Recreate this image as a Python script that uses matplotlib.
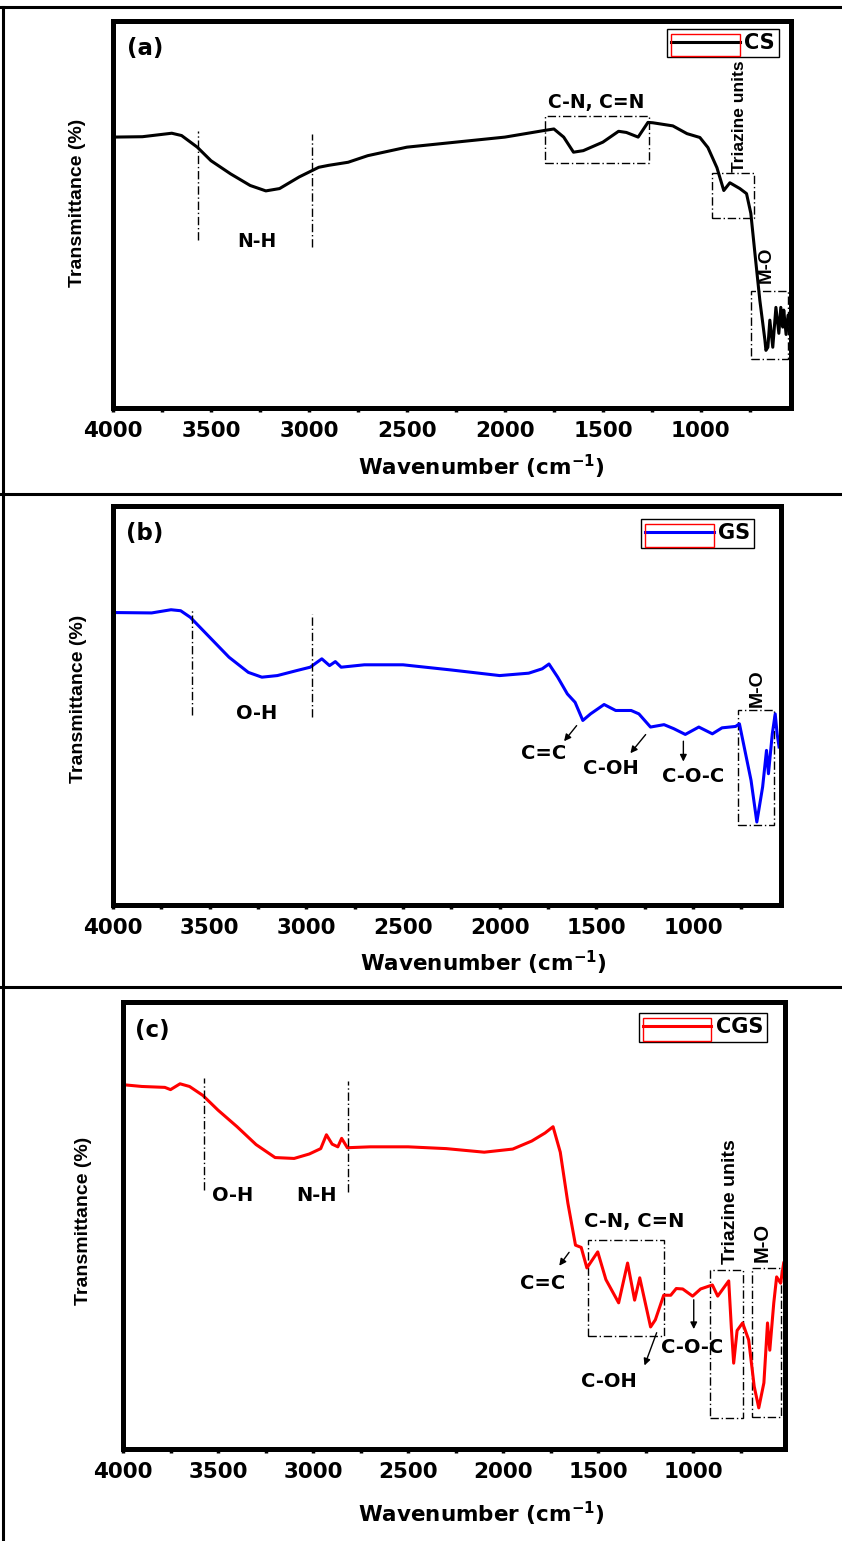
import numpy as np
import matplotlib
matplotlib.use('Agg')
import matplotlib.pyplot as plt
from matplotlib.lines import Line2D
from matplotlib.patches import Rectangle
from matplotlib.ticker import MultipleLocator

plt.rcParams['font.family'] = ['DejaVu Sans']
plt.rcParams['font.weight'] = 'bold'
plt.rcParams['axes.labelweight'] = 'bold'
plt.rcParams['mathtext.default'] = 'bf'

# ---- data (transmittance in arbitrary units 0-100) ----
wn_cs = [4000, 3850, 3700, 3650, 3570, 3500, 3400, 3300, 3220, 3150, 3050, 2950, 2900,
         2800, 2700, 2500, 2250, 2000, 1800, 1750, 1700, 1650, 1600, 1500, 1420, 1380,
         1320, 1270, 1245, 1143, 1071, 1005, 964, 918, 883, 852, 801, 767, 745, 724,
         699, 673, 668, 658, 648, 633, 617, 602, 592, 582, 577, 565, 555, 545]
t_cs = [70.0, 70.1, 71.0, 70.4, 67.4, 63.9, 60.5, 57.5, 56.1, 56.7, 59.7, 62.2, 62.7,
        63.5, 65.2, 67.4, 68.7, 70.0, 71.7, 72.1, 70.0, 66.1, 66.5, 68.7, 71.5, 71.2,
        70.0, 73.8, 73.7, 72.9, 70.9, 69.9, 67.3, 62.1, 56.2, 58.2, 56.7, 55.4, 50.3, 39.9,
        27.8, 17.5, 14.9, 15.7, 22.7, 15.7, 26.0, 19.3, 26.0, 20.9, 25.3, 19.0, 24.0, 21.0]

wn_gs = [4000, 3800, 3700, 3650, 3600, 3500, 3400, 3300, 3230, 3150, 3050, 2980, 2920,
         2880, 2850, 2820, 2700, 2500, 2250, 2000, 1850, 1780, 1745, 1700, 1650, 1610,
         1570, 1530, 1460, 1400, 1320, 1280, 1220, 1150, 1100, 1040, 970, 900, 850, 780,
         760, 700, 670, 640, 620, 610, 600, 590, 575, 565, 555]
t_gs = [73.3, 73.2, 74.0, 73.75, 72.1, 67.1, 62.1, 58.3, 57.1, 57.5, 58.75, 59.6, 61.7,
        60.0, 61.0, 59.6, 60.2, 60.2, 58.9, 57.5, 58.1, 59.2, 60.4, 57.1, 52.9, 50.8,
        46.25, 47.9, 50.25, 48.75, 48.75, 47.9, 44.6, 45.2, 44.2, 42.75, 44.6, 42.9, 44.4, 44.75,
        45.4, 31.25, 20.8, 29.6, 38.75, 32.9, 37.9, 42.9, 47.9, 42.9, 39.6]

wn_cgs = [4000, 3900, 3780, 3750, 3700, 3650, 3580, 3500, 3400, 3300, 3200, 3100, 3020,
          2960, 2930, 2900, 2870, 2850, 2820, 2700, 2500, 2300, 2100, 1950, 1850, 1780,
          1738, 1700, 1660, 1620, 1590, 1560, 1503, 1460, 1393, 1346, 1309, 1282, 1225,
          1200, 1156, 1119, 1090, 1056, 1004, 962, 900, 872, 814, 800, 788, 770, 741,
          709, 680, 656, 629, 610, 598, 577, 562, 541, 525]
t_cgs = [81.5, 81.1, 80.9, 80.4, 81.7, 81.1, 79.1, 75.8, 72.1, 68.1, 65.2, 65.0, 66.0,
         67.2, 70.3, 68.2, 67.6, 69.5, 67.4, 67.6, 67.6, 67.2, 66.4, 67.1, 68.9, 70.7,
         72.1, 66.4, 55.0, 45.6, 45.1, 40.5, 44.1, 37.9, 32.7, 41.6, 33.3, 38.3, 27.3,
         28.9, 34.4, 34.4, 35.9, 35.8, 34.2, 35.8, 36.7, 34.2, 37.6, 27.0, 19.2, 26.5, 28.2,
         24.4, 14.0, 9.2, 14.8, 28.2, 22.1, 32.7, 38.5, 37.1, 41.6]

W, H = 842, 1541
fig = plt.figure(figsize=(W / 100, H / 100), dpi=100)


def add_ax(l, r, t, b):
    return fig.add_axes([l / W, 1 - b / H, (r - l) / W, (b - t) / H])


def fig_line(x0, y0, x1, y1):
    fig.add_artist(Line2D([x0 / W, x1 / W], [1 - y0 / H, 1 - y1 / H],
                          transform=fig.transFigure, color='black', lw=2.2))


def style_ax(ax, xmin, tag, tagpos, ylab_pos, xlab_pos):
    ax.set_xlim(4000, xmin)
    ax.set_ylim(0, 100)
    ax.xaxis.set_major_locator(MultipleLocator(500))
    ax.xaxis.set_minor_locator(MultipleLocator(250))
    ax.set_yticks([])
    ax.tick_params(axis='x', which='both', direction='out', length=3, width=2.5,
                   top=False, labelsize=15.5, pad=6)
    for s in ax.spines.values():
        s.set_linewidth(3.6)
    ax.set_xlabel('Wavenumber (cm$^{-1}$)', fontsize=15.5, fontweight='bold', va='center')
    ax.xaxis.set_label_coords(*xlab_pos)
    ax.set_ylabel('Transmittance (%)', fontsize=14, fontweight='bold',
                  family='Liberation Sans', va='center')
    ax.yaxis.set_label_coords(*ylab_pos)
    ax.text(tagpos[0], tagpos[1], tag, transform=ax.transAxes, fontsize=16.5,
            ha='center', va='center')


DD = (0, (6, 2, 1, 2))


def vline(ax, x, y0, y1):
    ax.plot([x, x], [y0, y1], color='black', lw=1, ls=DD)


def box(ax, x0, x1, y0, y1):
    ax.add_patch(Rectangle((x0, y0), x1 - x0, y1 - y0, fill=False, ec='black',
                           lw=1, ls=DD))


def arrow(ax, start, end):
    ax.annotate('', xy=end, xytext=start,
                arrowprops=dict(arrowstyle='-|>', lw=1, color='black', mutation_scale=10))


def legend(ax, anchor):
    leg = ax.legend(loc='upper right', bbox_to_anchor=anchor, borderaxespad=0,
                    fancybox=False, edgecolor='black', framealpha=1,
                    prop={'size': 15, 'weight': 'bold'}, handlelength=3.3,
                    handletextpad=0.2, borderpad=0.2)
    leg.get_frame().set_linewidth(1.0)
    return leg


# ---- table borders ----
fig_line(0, 7, W, 7)
fig_line(3, 7, 3, H)
fig_line(0, 494, W, 494)
fig_line(0, 987, W, 987)

# ---- (a) CS ----
ax1 = add_ax(113, 791, 21, 408)
ax1.plot(wn_cs, t_cs, color='black', lw=2.2, label='CS')
style_ax(ax1, 540, '(a)', (0.048, 0.93), (-0.052, 0.53), (0.544, -0.152))
vline(ax1, 3568, 43.3, 71.7)
vline(ax1, 2987, 41.6, 70.8)
ax1.text(3267, 42.9, 'N-H', fontsize=13.5, ha='center', va='center')
box(ax1, 1796, 1265, 63.3, 75.5)
ax1.text(1536, 79, 'C-N, C=N', fontsize=13.5, ha='center', va='center')
box(ax1, 944, 730, 49.2, 60.8)
ax1.text(801, 75.5, 'Triazine units', fontsize=12.5, family='Liberation Sans',
         rotation=90, ha='center', va='center')
box(ax1, 745, 556, 12.6, 30.2)
ax1.text(668, 37, 'M-O', fontsize=13.5, family='Liberation Sans', rotation=90,
         ha='center', va='center')
leg1 = legend(ax1, (0.982, 0.979))

# ---- (b) GS ----
ax2 = add_ax(113, 781, 506, 905)
ax2.plot(wn_gs, t_gs, color='#0000ff', lw=2.2, label='GS')
style_ax(ax2, 545, '(b)', (0.048, 0.932), (-0.052, 0.516), (0.554, -0.145))
vline(ax2, 3589, 47.5, 74.2)
vline(ax2, 2972, 47.1, 72.9)
ax2.text(3256, 47.9, 'O-H', fontsize=14, ha='center', va='center')
arrow(ax2, (1593, 45.5), (1676, 40.5))
ax2.text(1774, 38, 'C=C', fontsize=14, ha='center', va='center')
arrow(ax2, (1236, 43.25), (1333, 37.5))
ax2.text(1427, 34.25, 'C-OH', fontsize=14, ha='center', va='center')
arrow(ax2, (1050, 41.75), (1050, 35.25))
ax2.text(998, 32.25, 'C-O-C', fontsize=14, ha='center', va='center')
box(ax2, 765, 579, 20, 48.75)
ax2.text(667, 54.25, 'M-O', fontsize=14, family='Liberation Sans', rotation=90,
         ha='center', va='center')
leg2 = legend(ax2, (0.96, 0.967))

# ---- (c) CGS ----
ax3 = add_ax(123, 785, 1002, 1449)
ax3.plot(wn_cgs, t_cgs, color='#ff0000', lw=2.2, label='CGS')
style_ax(ax3, 518, '(c)', (0.045, 0.937), (-0.06, 0.51), (0.542, -0.145))
vline(ax3, 3572, 58.0, 83.1)
vline(ax3, 2817, 57.5, 82.3)
ax3.text(3425, 56.6, 'O-H', fontsize=14, ha='center', va='center')
ax3.text(2980, 56.6, 'N-H', fontsize=14, ha='center', va='center')
arrow(ax3, (1645, 44.5), (1714, 40.5))
ax3.text(1793, 37.1, 'C=C', fontsize=14, ha='center', va='center')
box(ax3, 1556, 1156, 25.3, 46.8)
ax3.text(1313, 50.8, 'C-N, C=N', fontsize=14, ha='center', va='center')
arrow(ax3, (1188, 26.6), (1262, 18.1))
ax3.text(1445, 15, 'C-OH', fontsize=14, ha='center', va='center')
arrow(ax3, (998, 34.0), (998, 26.2))
ax3.text(1004, 22.6, 'C-O-C', fontsize=14, ha='center', va='center')
box(ax3, 913, 741, 6.9, 40.0)
ax3.text(803, 55.3, 'Triazine units', fontsize=14, family='Liberation Sans',
         rotation=90, ha='center', va='center')
box(ax3, 694, 541, 7.2, 40.5)
ax3.text(637, 46.3, 'M-O', fontsize=14.5, family='Liberation Sans', rotation=90,
         ha='center', va='center')
leg3 = legend(ax3, (0.973, 0.975))

# red selection frame around each legend sample (as in the original export)
fig.canvas.draw()
r = fig.canvas.get_renderer()
inv = fig.transFigure.inverted()
for leg in (leg1, leg2, leg3):
    hb = leg.legend_handles[0].get_window_extent(r)
    fb = leg.get_frame().get_window_extent(r)
    x0, y0 = inv.transform((hb.x0, fb.y0 + 1))
    x1, y1 = inv.transform((hb.x1, fb.y1 - 5))
    fig.add_artist(Rectangle((x0, y0), x1 - x0, y1 - y0, fill=False, ec='red',
                             lw=1, transform=fig.transFigure))

fig.savefig('out.png', dpi=100)
